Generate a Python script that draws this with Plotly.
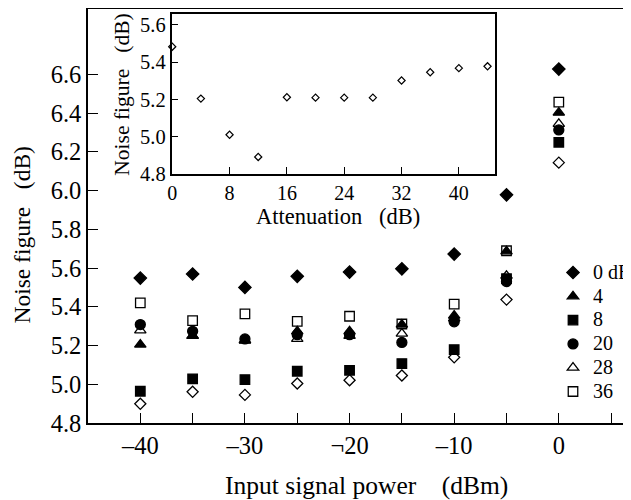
import plotly.graph_objects as go

# ---------------- data ----------------
power_dbm = [-40, -35, -30, -25, -20, -15, -10, -5, 0]

nf_0db  = [5.548, 5.569, 5.500, 5.557, 5.579, 5.596, 5.672, 5.978, 6.627]
nf_4db  = [5.205, 5.250, 5.225, 5.273, 5.273, 5.308, 5.354, 5.686, 6.402]
nf_8db  = [4.964, 5.028, 5.024, 5.067, 5.072, 5.107, 5.179, 5.545, 6.249]
nf_20db = [5.308, 5.273, 5.234, 5.256, 5.256, 5.216, 5.322, 5.530, 6.313]
nf_28db = [5.278, 5.250, 5.228, 5.234, 5.250, 5.261, 5.340, 5.560, 6.344]
nf_36db = [5.420, 5.328, 5.363, 5.325, 5.351, 5.311, 5.414, 5.689, 6.456]
nf_12db = [4.899, 4.961, 4.945, 5.004, 5.021, 5.045, 5.139, 5.437, 6.144]

atten_db = [0, 4, 8, 12, 16, 20, 24, 28, 32, 36, 40, 44]
nf_atten = [5.483, 5.205, 5.011, 4.892, 5.212, 5.210, 5.210, 5.210, 5.302, 5.346, 5.368, 5.378]

x_tickvals = [-40, -35, -30, -25, -20, -15, -10, -5, 0, 5]
x_ticktext = ["\u201340", "", "\u201330", "", "\u00ac20", "", "\u201310", "", "0", ""]
y_tickvals = [4.8, 5.0, 5.2, 5.4, 5.6, 5.8, 6.0, 6.2, 6.4, 6.6]
inset_x_tickvals = [0, 8, 16, 24, 32, 40]
inset_y_tickvals = [4.8, 5.0, 5.2, 5.4, 5.6]

FONT = "Liberation Serif, Times New Roman, serif"
OFF = 8                      # page body margin of the browser
W, H = 631 - OFF, 500 - OFF
L, R = 88 - OFF, 0
T = 9.3 - OFF
B = H - (423.5 - OFF)
PW, PH = W - L - R, H - T - B
NB = "\u00a0"


def px_x(px):                # reference pixel -> paper fraction
    return (px - OFF - L) / PW


def px_y(py):
    return (H - B - (py - OFF)) / PH


fig = go.Figure()

series = [
    ("0 dB", nf_0db, "diamond", 9.5, True),
    ("4", nf_4db, "triangle-up", 10, True),
    ("8", nf_8db, "square", 9.5, True),
    ("20", nf_20db, "circle", 10, True),
    ("28", nf_28db, "triangle-up-open", 10, True),
    ("36", nf_36db, "square-open", 9.5, True),
    ("12", nf_12db, "diamond-open", 8.5, False),
]
for name, ys, sym, size, show in series:
    fig.add_trace(go.Scatter(
        x=power_dbm, y=ys, mode="markers",
        name="<span style='font-size:20px'>" + name + "</span>",
        showlegend=show,
        marker=dict(symbol=sym, size=size, color="black",
                    line=dict(color="black", width=1.3)),
        xaxis="x", yaxis="y",
    ))

fig.add_trace(go.Scatter(
    x=atten_db, y=nf_atten, mode="markers", showlegend=False,
    marker=dict(symbol="diamond-open", size=5.5, color="black",
                line=dict(color="black", width=1.2)),
    xaxis="x2", yaxis="y2", cliponaxis=False,
))

axis_common = dict(
    showgrid=False, zeroline=False, showline=True, linecolor="black",
    linewidth=1.5, ticks="inside", tickcolor="black", tickwidth=1.3,
    automargin=False,
)

fig.update_layout(
    width=W, height=H,
    margin=dict(l=L, r=R, t=T, b=B, pad=0, autoexpand=False),
    paper_bgcolor="white", plot_bgcolor="white",
    font=dict(family=FONT, color="black", size=22),
    xaxis=dict(
        **axis_common, range=[-45.0, 6.9], domain=[0, 1],
        tickvals=x_tickvals, ticktext=x_ticktext, ticklen=10,
        mirror=True, tickfont=dict(size=24.5), anchor="y",
    ),
    yaxis=dict(
        **axis_common, range=[4.8, 6.937], domain=[0, 1],
        tickvals=y_tickvals, tickformat=".1f", ticklen=10,
        mirror=False, tickfont=dict(size=24.5), anchor="x",
    ),
    xaxis2=dict(
        **axis_common, range=[-0.1, 45], domain=[px_x(171.5), px_x(494.7)],
        tickvals=inset_x_tickvals, ticklen=7, mirror=True, anchor="y2",
        tickfont=dict(size=20),
    ),
    yaxis2=dict(
        **axis_common, range=[4.8, 5.66], domain=[px_y(174.5), px_y(14)],
        tickvals=inset_y_tickvals, tickformat=".1f", ticklen=7, mirror=True,
        anchor="x2", tickfont=dict(size=20.5),
    ),
    legend=dict(
        x=px_x(553), y=px_y(256), xanchor="left", yanchor="top",
        font=dict(size=16), bgcolor="rgba(0,0,0,0)", tracegroupgap=0,
        itemwidth=30,
    ),
    showlegend=True,
    annotations=[
        dict(text="Input signal power" + NB * 4 + "(dBm)", x=px_x(366), y=px_y(486),
             xref="paper", yref="paper", showarrow=False,
             xanchor="center", yanchor="middle", font=dict(size=25.5)),
        dict(text="Noise figure" + NB * 3 + "(dB)", x=px_x(22), y=px_y(235),
             xref="paper", yref="paper", showarrow=False, textangle=-90,
             xanchor="center", yanchor="middle", font=dict(size=23.5)),
        dict(text="Attenuation" + NB * 3 + "(dB)", x=px_x(338), y=px_y(217),
             xref="paper", yref="paper", showarrow=False,
             xanchor="center", yanchor="middle", font=dict(size=22.5)),
        dict(text="Noise figure" + NB * 3 + "(dB)", x=px_x(122), y=px_y(95),
             xref="paper", yref="paper", showarrow=False, textangle=-90,
             xanchor="center", yanchor="middle", font=dict(size=21.5)),
    ],
)

fig.write_html("out.html")
